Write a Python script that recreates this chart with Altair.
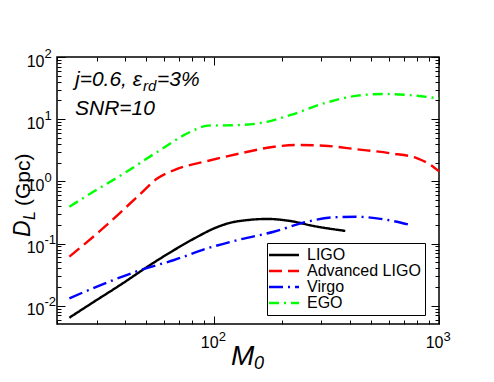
import altair as alt
import pandas as pd

# ---------------- data ----------------
series_names = ["LIGO", "Advanced LIGO", "Virgo", "EGO"]
series_colors = ["#000000", "#ff0000", "#0000ff", "#00ff00"]
series_dashes = [[1, 0], [13, 6], [14, 5, 2, 5], [10, 5, 2, 5]]

ligo_m = [22.7, 28.3, 39.8, 50.5, 66.4, 84.3, 100, 118.5, 140.6, 172, 218, 277, 383]
ligo_d = [0.00644, 0.0108, 0.0238, 0.0425, 0.0789, 0.129, 0.176, 0.217, 0.239, 0.249, 0.231, 0.192, 0.16]

adv_m = [22.7, 33.6, 46.4, 56, 66.4, 93.4, 131, 185, 234, 308, 433, 610, 801, 918, 1000]
adv_d = [0.0616, 0.205, 0.604, 1.12, 1.52, 2.13, 2.83, 3.61, 3.85, 3.75, 3.28, 2.83, 2.35, 1.84, 1.45]

virgo_m = [22.7, 33.6, 47.2, 66.4, 93.4, 131, 184, 259, 340, 432, 568, 745]
virgo_d = [0.0132, 0.0239, 0.0377, 0.0545, 0.084, 0.117, 0.155, 0.225, 0.265, 0.27, 0.246, 0.199]

ego_m = [22.7, 28.3, 39.8, 56, 78.7, 93.4, 131, 167, 219, 308, 433, 570, 723, 1000]
ego_d = [0.392, 0.644, 1.35, 3.0, 6.3, 7.87, 8.07, 8.9, 11.7, 18.0, 23.9, 25.4, 24.5, 21.5]

x_major = [100, 1000]
x_major_exp = ["2", "3"]
x_minor = [20, 30, 40, 50, 60, 70, 80, 90, 200, 300, 400, 500, 600, 700, 800, 900]
y_major = [0.01, 0.1, 1, 10, 100]
y_major_exp = ["-2", "-1", "0", "1", "2"]
y_minor = ([0.006, 0.007, 0.008, 0.009]
           + [0.02, 0.03, 0.04, 0.05, 0.06, 0.07, 0.08, 0.09]
           + [0.2, 0.3, 0.4, 0.5, 0.6, 0.7, 0.8, 0.9]
           + [2, 3, 4, 5, 6, 7, 8, 9]
           + [20, 30, 40, 50, 60, 70, 80, 90])

x_domain = [20, 1000]
y_domain = [0.0051, 100]

note_line1 = ["j=0.6, ε", "rd", "=3%"]
note_line2 = "SNR=10"
y_title_parts = ["D", "L", "(Gpc)"]
x_title_parts = ["M", "0"]

rows = []
for name, ms, ds in zip(series_names, [ligo_m, adv_m, virgo_m, ego_m], [ligo_d, adv_d, virgo_d, ego_d]):
    for m, d in zip(ms, ds):
        rows.append({"detector": name, "M0": m, "DL": d})
df = pd.DataFrame(rows)

FONT = "Liberation Sans"


def label_expr(values, labels):
    e = "''"
    for v, l in zip(values, labels):
        e = f"abs(datum.value/{v} - 1) < 1e-6 ? '{l}' : ({e})"
    return e


def xs():
    return alt.Scale(type="log", domain=x_domain, nice=False)


def ys():
    return alt.Scale(type="log", domain=y_domain, nice=False)


def tick_axis(orient, vals, size):
    return alt.Axis(orient=orient, values=vals, labels=False, domain=False, grid=False,
                    ticks=True, tickSize=size, offset=-size, tickColor="black",
                    tickWidth=1, title=None)


x_base_axis = alt.Axis(orient="bottom", values=x_major, labelExpr="'10'", ticks=False,
                       domain=False, grid=False, labelFontSize=16, labelFont=FONT,
                       labelColor="black", labelAlign="right", labelOffset=4,
                       labelPadding=10, labelOverlap=False, labelFlush=False, title=None)
x_exp_axis = alt.Axis(orient="bottom", values=x_major, labelExpr=label_expr(x_major, x_major_exp),
                      ticks=False, domain=False, grid=False, labelFontSize=13, labelFont=FONT,
                      labelColor="black", labelAlign="left", labelOffset=4,
                      labelPadding=6, labelOverlap=False, labelFlush=False, title=None)
y_base_axis = alt.Axis(orient="left", values=y_major, labelExpr="'10'", ticks=False,
                       domain=False, grid=False, labelFontSize=16, labelFont=FONT,
                       labelColor="black", labelAlign="right", labelBaseline="middle",
                       labelOffset=4, labelPadding=13, labelOverlap=False,
                       labelFlush=False, title=None)
y_exp_axis = alt.Axis(orient="left", values=y_major, labelExpr=label_expr(y_major, y_major_exp),
                      ticks=False, domain=False, grid=False, labelFontSize=13, labelFont=FONT,
                      labelColor="black", labelAlign="left", labelBaseline="middle",
                      labelOffset=-4, labelPadding=13, labelOverlap=False,
                      labelFlush=False, title=None)

legend = alt.Legend(orient="none", legendX=210, legendY=186, title=None,
                    symbolType="M-3,0H3", symbolSize=100, symbolStrokeWidth=2.4,
                    symbolOffset=5, labelOffset=15, labelFontSize=16, labelFont=FONT,
                    labelColor="black", strokeColor="black", fillColor="white",
                    padding=4, rowPadding=0, cornerRadius=0)

base = alt.Chart(df)

lines = base.mark_line(strokeWidth=2.4, interpolate="monotone").encode(
    x=alt.X("M0:Q", scale=xs(), axis=x_base_axis),
    y=alt.Y("DL:Q", scale=ys(), axis=y_base_axis),
    color=alt.Color("detector:N", scale=alt.Scale(domain=series_names, range=series_colors),
                    legend=legend, sort=series_names),
    strokeDash=alt.StrokeDash("detector:N", scale=alt.Scale(domain=series_names, range=series_dashes),
                              legend=legend, sort=series_names),
)


def ghost(xa, ya):
    return base.mark_point(opacity=0).encode(
        x=alt.X("M0:Q", scale=xs(), axis=xa),
        y=alt.Y("DL:Q", scale=ys(), axis=ya),
    )


g1 = ghost(x_exp_axis, y_exp_axis)
g2 = ghost(tick_axis("bottom", x_major, 8), tick_axis("left", y_major, 8))
g3 = ghost(tick_axis("bottom", x_minor, 4), tick_axis("left", y_minor, 4))
g4 = ghost(tick_axis("top", x_major, 8), tick_axis("right", y_major, 8))
g5 = ghost(tick_axis("top", x_minor, 4), tick_axis("right", y_minor, 4))


def txt(s, x, y, size, style="normal", angle=0):
    return alt.Chart(pd.DataFrame({"t": [s]})).mark_text(
        font=FONT, fontSize=size, fontStyle=style, align="left", baseline="alphabetic",
        color="black", angle=angle
    ).encode(text="t:N", x=alt.value(x), y=alt.value(y))


t1 = txt(note_line1[0], 18, 29, 21, "italic")
t2 = txt(note_line1[1], 86, 34, 15, "italic")
t3 = txt(note_line1[2], 100, 29, 21, "italic")
t4 = txt(note_line2, 18, 58, 21, "italic")

yt1 = txt(y_title_parts[0], -27, 180, 23, "italic", 270)
yt2 = txt(y_title_parts[1], -22, 163, 16, "italic", 270)
yt3 = txt(y_title_parts[2], -27, 149, 21, "normal", 270)

xt1 = txt(x_title_parts[0], 174, 308, 28, "italic")
xt2 = txt(x_title_parts[1], 197, 312, 18, "italic")

chart = alt.layer(
    lines, g1, g2, g3, g4, g5, t1, t2, t3, t4, yt1, yt2, yt3, xt1, xt2
).resolve_axis(
    x="independent", y="independent"
).properties(
    width=382, height=267,
    autosize=alt.AutoSizeParams(type="none"),
    padding={"left": 49, "top": 49, "right": 47, "bottom": 50},
).configure_view(
    stroke="black", strokeWidth=1.5
).configure_legend(
    strokeWidth=1
)

chart.save("out.html", embed_options={"renderer": "svg", "actions": False})
